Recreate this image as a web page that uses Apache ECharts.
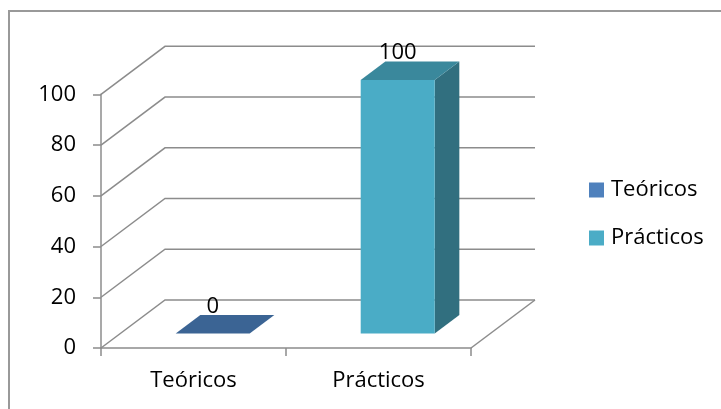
<!DOCTYPE html>
<html>
<head>
<meta charset="utf-8">
<script src="https://cdn.jsdelivr.net/npm/echarts@6/dist/echarts.min.js"></script>
<style>
  html, body { margin: 0; padding: 0; background: #fff; }
  #chart { width: 721px; height: 409px; }
</style>
</head>
<body>
<div id="chart"></div>
<script>
// Chart data
const categories = ['Teóricos', 'Prácticos'];
const seriesNames = ['Teóricos', 'Prácticos'];
const values = [0, 100];
const yTicks = [0, 20, 40, 60, 80, 100];

// Pseudo-3D look
const FONT = 'Open Sans';
const DEPTH = [64, -48];          // offset from the front plane to the back wall
const BAR_FRONT = 0.30;           // bar front face, as a fraction of the depth
const BAR_BACK = 0.685;           // bar back face, as a fraction of the depth
const BAR_WIDTH = 0.4;            // bar width, as a fraction of the category band
const legendColors = ['#4F81BD', '#4BACC6'];
const faces = [
  { front: '#4F81BD', top: '#3B6494', side: '#2F5078' },
  { front: '#4AACC6', top: '#3A889C', side: '#316F7F' }
];
const gridColor = '#8c8c8c';

// Floor and wall gridlines: front edge -> back wall -> across the back wall
function wallItem(params, api) {
  const cs = params.coordSys;
  const v = api.value(1);
  const y = api.coord([0, v])[1];
  const l = cs.x, r = cs.x + cs.width;
  const children = [{
    type: 'polyline',
    shape: { points: [[l, y], [l + DEPTH[0], y + DEPTH[1]], [r + DEPTH[0], y + DEPTH[1]]] },
    style: { stroke: gridColor, lineWidth: 1.5, fill: null }
  }];
  if (v === 0) {
    children.push({
      type: 'line',
      shape: { x1: r, y1: y, x2: r + DEPTH[0], y2: y + DEPTH[1] },
      style: { stroke: gridColor, lineWidth: 1.5 }
    });
  }
  return { type: 'group', children };
}

// A box-shaped bar: side, front and top faces, plus its value label
function barItem(idx) {
  return function (params, api) {
    const ci = api.value(0), v = api.value(1);
    const base = api.coord([ci, 0]);
    const topP = api.coord([ci, v]);
    const bw = api.size([1, 0])[0] * BAR_WIDTH;
    const x0 = base[0] - bw / 2, x1 = base[0] + bw / 2;
    const fx = DEPTH[0] * BAR_FRONT, fy = DEPTH[1] * BAR_FRONT;
    const bx = DEPTH[0] * BAR_BACK, by = DEPTH[1] * BAR_BACK;
    const yb = base[1], yt = topP[1];
    const c = faces[idx];
    const children = [];
    if (yb - yt > 0.5) {
      children.push({
        type: 'polygon',
        shape: { points: [[x1 + fx, yt + fy], [x1 + bx, yt + by], [x1 + bx, yb + by], [x1 + fx, yb + fy]] },
        style: { fill: c.side }
      });
      children.push({
        type: 'rect',
        shape: { x: x0 + fx, y: yt + fy, width: bw, height: yb - yt },
        style: { fill: c.front }
      });
    }
    children.push({
      type: 'polygon',
      shape: { points: [[x0 + fx, yt + fy], [x1 + fx, yt + fy], [x1 + bx, yt + by], [x0 + bx, yt + by]] },
      style: { fill: c.top }
    });
    children.push({
      type: 'text',
      style: {
        text: String(v),
        x: base[0] + fx,
        y: yt + fy - 27,
        align: 'center',
        verticalAlign: 'middle',
        fill: '#000',
        fontSize: 22,
        fontFamily: FONT
      }
    });
    return { type: 'group', children };
  };
}

const chart = echarts.init(document.getElementById('chart'), null, { renderer: 'canvas' });

const barSeries = seriesNames.map((name, i) => ({
  name,
  type: 'custom',
  renderItem: barItem(i),
  itemStyle: { color: legendColors[i] },
  z: 3,
  data: [[i, values[i]]]
}));

chart.setOption({
  animation: false,
  backgroundColor: '#fff',
  textStyle: { fontFamily: FONT },
  graphic: [{
    type: 'rect',
    shape: { x: 9, y: 11, width: 740, height: 420 },
    style: { fill: null, stroke: '#999', lineWidth: 2 },
    z: 0
  }],
  grid: { left: 101, right: 250, top: 94.3, bottom: 61, containLabel: false },
  legend: {
    data: seriesNames,
    orient: 'vertical',
    left: 584,
    top: 174,
    itemWidth: 15,
    itemHeight: 15,
    itemGap: 26,
    icon: 'rect',
    textStyle: { fontFamily: FONT, fontSize: 22, color: '#000', lineHeight: 22, padding: [0, 0, 0, 2] }
  },
  xAxis: {
    type: 'category',
    data: categories,
    axisLine: { lineStyle: { color: gridColor, width: 1.5 } },
    axisTick: { show: true, length: 8, lineStyle: { color: gridColor, width: 1.5 } },
    axisLabel: { fontFamily: FONT, fontSize: 22, color: '#000', margin: 22 },
    splitLine: { show: false }
  },
  yAxis: {
    type: 'value',
    min: 0,
    max: 100,
    interval: 20,
    axisLine: { show: true, lineStyle: { color: gridColor, width: 1.5 } },
    axisTick: { show: true, length: 8, lineStyle: { color: gridColor, width: 1.5 } },
    axisLabel: { fontFamily: FONT, fontSize: 22, color: '#000', margin: 25 },
    splitLine: { show: false }
  },
  series: [{
    name: 'walls',
    type: 'custom',
    renderItem: wallItem,
    silent: true,
    z: 1,
    data: yTicks.map(v => [0, v])
  }].concat(barSeries)
});
</script>
</body>
</html>
